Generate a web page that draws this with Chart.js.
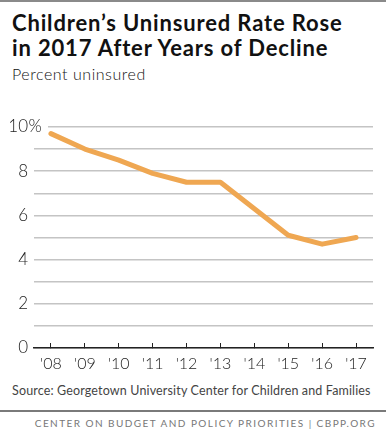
<!DOCTYPE html>
<html>
<head>
<meta charset="utf-8">
<script src="https://cdn.jsdelivr.net/npm/chart.js@4/dist/chart.umd.min.js"></script>
<style>
  html, body { margin: 0; padding: 0; background: #fff; }
  body { width: 386px; height: 438px; position: relative; overflow: hidden; font-family: "Lato", "Open Sans", sans-serif; }
  .topline { position: absolute; left: 0; top: 0; width: 386px; height: 2px; background: #8a8a8a; }
  .title { position: absolute; left: 12px; top: 10px; font-weight: 700; font-size: 22px; line-height: 25px; color: #111; letter-spacing: 0.85px; white-space: nowrap; }
  .sub { position: absolute; left: 12px; top: 64px; font-size: 16px; font-weight: 300; color: #111; letter-spacing: 0.55px; }
  .chartbox { position: absolute; left: 0; top: 95px; width: 386px; height: 280px; }
  .source { position: absolute; left: 12px; top: 383px; font-size: 12.5px; color: #444; letter-spacing: 0.15px; white-space: nowrap; }
  .sep { position: absolute; left: 0; top: 410px; width: 386px; height: 2px; background: #7a7a7a; }
  .footer { position: absolute; right: 10px; top: 417px; font-size: 10px; color: #777; letter-spacing: 1.45px; white-space: nowrap; }
</style>
</head>
<body>
<div class="topline"></div>
<div class="title">Children’s Uninsured Rate Rose<br>in 2017 After Years of Decline</div>
<div class="sub">Percent uninsured</div>
<div class="chartbox"><canvas id="c" width="386" height="280"></canvas></div>
<div class="source">Source: Georgetown University Center for Children and Families</div>
<div class="sep"></div>
<div class="footer">CENTER ON BUDGET AND POLICY PRIORITIES | CBPP.ORG</div>
<script>
const years = ["'08", "'09", "'10", "'11", "'12", "'13", "'14", "'15", "'16", "'17"];
const uninsuredRate = [9.7, 9.0, 8.5, 7.9, 7.5, 7.5, 6.3, 5.1, 4.7, 5.0];
const yTickLabels = { 0: "0", 2: "2", 4: "4", 6: "6", 8: "8", 10: "10" };

const percentPlugin = {
  id: 'percentSign',
  beforeDatasetsDraw(chart) {
    const y = chart.scales.y;
    const ctx = chart.ctx;
    const p10 = y.getPixelForValue(10);
    ctx.save();
    ctx.fillStyle = '#fff';
    ctx.fillRect(29, p10 - 4, 19, 8);
    ctx.font = '300 17px Lato, "Open Sans", sans-serif';
    ctx.fillStyle = '#222';
    ctx.textAlign = 'left';
    ctx.textBaseline = 'middle';
    ctx.fillText('%', 28.5, p10);
    ctx.restore();
  }
};

new Chart(document.getElementById('c'), {
  type: 'line',
  data: {
    labels: years,
    datasets: [{
      data: uninsuredRate,
      borderColor: '#EFA752',
      borderWidth: 5,
      borderCapStyle: 'round',
      borderJoinStyle: 'round',
      pointRadius: 0,
      tension: 0,
      fill: false
    }]
  },
  options: {
    responsive: false,
    animation: false,
    devicePixelRatio: 1,
    layout: { padding: { top: 32, right: 13, left: 0, bottom: 0 } },
    plugins: { legend: { display: false }, tooltip: { enabled: false }, title: { display: false } },
    scales: {
      x: {
        offset: true,
        grid: { display: true, drawOnChartArea: false, drawTicks: true, tickLength: -5, color: '#222', lineWidth: 1, offset: false },
        border: { display: true, color: '#222', width: 1.5, z: 1 },
        ticks: { color: '#222', font: { family: 'Lato, "Open Sans", sans-serif', size: 16, weight: 300 }, padding: 11, maxRotation: 0, autoSkip: false },
        afterFit(s) { s.height = 27; }
      },
      y: {
        min: 0, max: 10,
        grid: { display: true, drawOnChartArea: true, drawTicks: false, color: '#c4c4c4', lineWidth: 1.5 },
        border: { display: false },
        ticks: {
          stepSize: 1,
          autoSkip: false,
          color: '#222',
          padding: 6,
          font: { family: 'Lato, "Open Sans", sans-serif', size: 17, weight: 300 },
          callback: (v) => (yTickLabels[v] !== undefined ? yTickLabels[v] : '')
        },
        afterFit(s) { s.width = 34; }
      }
    }
  },
  plugins: [percentPlugin]
});
</script>
</body>
</html>
